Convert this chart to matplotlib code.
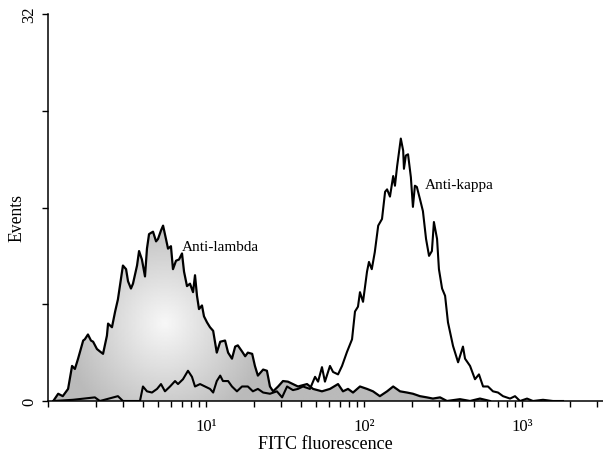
import numpy as np
import matplotlib
matplotlib.use("Agg")
import matplotlib.pyplot as plt
from matplotlib.ticker import FixedLocator, FixedFormatter

plt.rcParams['font.family'] = ['Liberation Serif', 'DejaVu Serif']

# anti-lambda histogram (filled)
lambda_x = [1.08, 1.16, 1.24, 1.34, 1.42, 1.48, 1.55, 1.67, 1.71, 1.79, 1.87, 1.93,
            2.04, 2.13, 2.23, 2.36, 2.40, 2.54, 2.66, 2.77, 2.98, 3.12, 3.21, 3.35,
            3.45, 3.66, 3.77, 3.93, 4.11, 4.23, 4.36, 4.62, 4.83, 4.97, 5.19, 5.35,
            5.58, 5.75, 6.00, 6.18, 6.46, 6.75, 7.05, 7.26, 7.58, 7.92, 8.28, 8.52,
            8.77, 9.03, 9.43, 9.71, 10.15, 10.6, 11.1, 11.7, 12.3, 13.2, 13.8, 14.6,
            15.3, 15.9, 16.9, 17.7, 18.4, 19.6, 20.4, 21.3, 23.0, 24.3, 25.4, 26.6,
            28.6, 30.7, 33.0, 35.5, 38.2, 43.6, 47.6, 54.2, 60.9, 68.5, 73.6, 79.2,
            85.2, 94.3, 104.5, 114, 126, 140, 153, 169, 187, 204, 226, 250, 273,
            303, 335, 405, 469, 542, 627]
lambda_y = [0, 0.6, 0.4, 1.0, 2.9, 2.65, 3.5, 5.0, 5.1, 5.5, 5.0, 4.9,
            4.3, 4.1, 3.9, 5.4, 6.4, 6.1, 7.4, 8.4, 11.2, 10.9, 9.9, 9.3,
            9.7, 11.2, 12.4, 11.7, 10.3, 12.6, 13.8, 14.0, 13.2, 13.4, 14.1, 14.5,
            13.4, 12.6, 12.8, 10.9, 11.6, 11.7, 12.2, 10.7, 9.5, 9.7, 9.0, 10.4,
            8.7, 7.6, 7.9, 7.0, 6.5, 6.1, 5.8, 4.0, 4.9, 5.0, 4.0, 3.5,
            4.5, 4.6, 4.1, 3.7, 4.0, 3.9, 2.9, 2.1, 2.6, 2.5, 1.2, 0.8,
            1.2, 1.65, 1.6, 1.4, 1.2, 1.4, 1.0, 0.8, 1.0, 1.4, 0.8, 1.0,
            0.7, 1.2, 1.0, 0.8, 0.4, 0.8, 1.2, 0.8, 0.7, 0.6, 0.4, 0.3, 0.2,
            0.3, 0, 0.15, 0, 0.2, 0]

# anti-kappa histogram (outline)
kappa_x = [1.08, 1.44, 1.98, 2.13, 2.77, 2.98, 3.82, 3.99, 4.23, 4.55, 4.90, 5.19,
           5.50, 5.92, 6.37, 6.65, 7.15, 7.69, 8.15, 8.52, 9.17, 9.86, 10.6, 11.1,
           11.7, 12.3, 12.8, 13.8, 14.6, 15.7, 16.9, 18.4, 19.8, 21.3, 23.0, 25.4,
           28.1, 30.3, 32.6, 35.5, 38.2, 41.1, 45.5, 49.0, 51.2, 54.2, 56.6, 60.9,
           63.7, 68.5, 72.6, 78.0, 84.0, 87.7, 91.6, 94.3, 98.6, 104.5, 107.5, 112,
           117, 123, 130, 136, 140, 146, 153, 157, 162, 171, 177, 179,
           184, 190, 198, 204, 210, 216, 226, 236, 247, 258, 269, 277,
           290, 298, 312, 326, 340, 366, 394, 423, 436, 469, 504, 534,
           567, 609, 655, 705, 758, 840, 903, 971, 1076, 1174, 1358, 1571, 1817]
kappa_y = [0, 0.1, 0.3, 0, 0.4, 0, 0, 1.2, 0.8, 0.7, 1.0, 1.4,
           0.8, 1.2, 1.65, 1.4, 1.8, 2.5, 2.0, 1.2, 1.4, 1.2, 1.0, 0.7,
           1.65, 2.1, 1.65, 1.65, 1.2, 0.8, 1.2, 1.2, 0.8, 1.0, 0.7, 0.6,
           0.8, 0.3, 1.2, 0.9, 1.0, 1.2, 1.0, 2.0, 1.6, 2.8, 1.6, 2.9,
           2.4, 2.2, 2.9, 4.05, 5.1, 7.4, 7.8, 9.0, 8.2, 10.7, 11.5, 10.9,
           12.3, 14.5, 15.05, 17.3, 17.5, 16.9, 18.6, 17.8, 19.4, 21.7, 20.7, 19.2,
           20.3, 20.4, 18.5, 16.05, 17.8, 17.7, 16.7, 15.7, 13.4, 12.0, 12.4, 14.8,
           13.4, 10.9, 9.3, 8.7, 6.5, 4.55, 3.2, 4.5, 3.5, 2.9, 1.8, 2.2,
           1.2, 1.2, 0.8, 0.7, 0.4, 0.2, 0.4, 0, 0.2, 0, 0.1, 0, 0]

y_ticks = [0, 8, 16, 24, 32]
y_labels = ['0', '', '', '', '32']
x_major = [1, 10, 100, 1000]
x_labels = ['', '10\u00b9', '10\u00b2', '10\u00b3']

fig = plt.figure(figsize=(6.03, 4.56), dpi=100)
ax = fig.add_axes([48 / 603, 54 / 456, 555 / 603, 387 / 456])

# shaded gradient for the filled histogram
u, v = np.meshgrid(np.linspace(0, 1, 400), np.linspace(0, 1, 300))
dist = np.sqrt(((u - 0.21) / 0.14) ** 2 + ((v - 0.2) / 0.22) ** 2)
shade = 0.97 - 0.24 * np.clip(dist, 0, 1.3) / 1.3
im = ax.imshow(shade, cmap='gray', vmin=0, vmax=1, origin='lower',
               extent=(0, 1, 0, 1), transform=ax.transAxes, aspect='auto',
               interpolation='bilinear', zorder=1)

ax.set_xscale('log')
fill = ax.fill_between(lambda_x, lambda_y, 0, facecolor='none', edgecolor='none')
im.set_clip_path(fill.get_paths()[0], ax.transData)
ax.plot(lambda_x, lambda_y, color='black', lw=1.6, zorder=3)
ax.plot(kappa_x, kappa_y, color='black', lw=1.5, zorder=4)

ax.text(7.05, 12.8, 'Anti-lambda', fontsize=11, va='center', ha='left')
ax.text(243, 17.9, 'Anti-kappa', fontsize=11, va='center', ha='left')

ax.set_xlim(1, 10 ** (555 / 158))
ax.set_ylim(0, 32)

ax.xaxis.set_major_locator(FixedLocator(x_major))
ax.xaxis.set_major_formatter(FixedFormatter(x_labels))
minor = [m * 10 ** e for e in range(0, 4) for m in range(2, 10)]
ax.xaxis.set_minor_locator(FixedLocator(minor))
ax.yaxis.set_major_locator(FixedLocator(y_ticks))
ax.yaxis.set_major_formatter(FixedFormatter(y_labels))
ax.yaxis.set_minor_locator(FixedLocator([]))

ax.tick_params(axis='x', which='both', direction='out', length=4, width=1.0,
               labelsize=12, pad=8)
ax.tick_params(axis='y', direction='out', length=4.5, width=1.0, labelsize=12, pad=3)
for lab in ax.get_yticklabels():
    lab.set_rotation(90)
    lab.set_va('center')

for s in ['top', 'right']:
    ax.spines[s].set_visible(False)
for s in ['left', 'bottom']:
    ax.spines[s].set_linewidth(1.1)

ax.set_xlabel('FITC fluorescence', fontsize=13, labelpad=1)
ax.set_ylabel('Events', fontsize=12.7)
ax.yaxis.set_label_coords(-0.041, 0.475)

fig.savefig('out.png', dpi=100)
